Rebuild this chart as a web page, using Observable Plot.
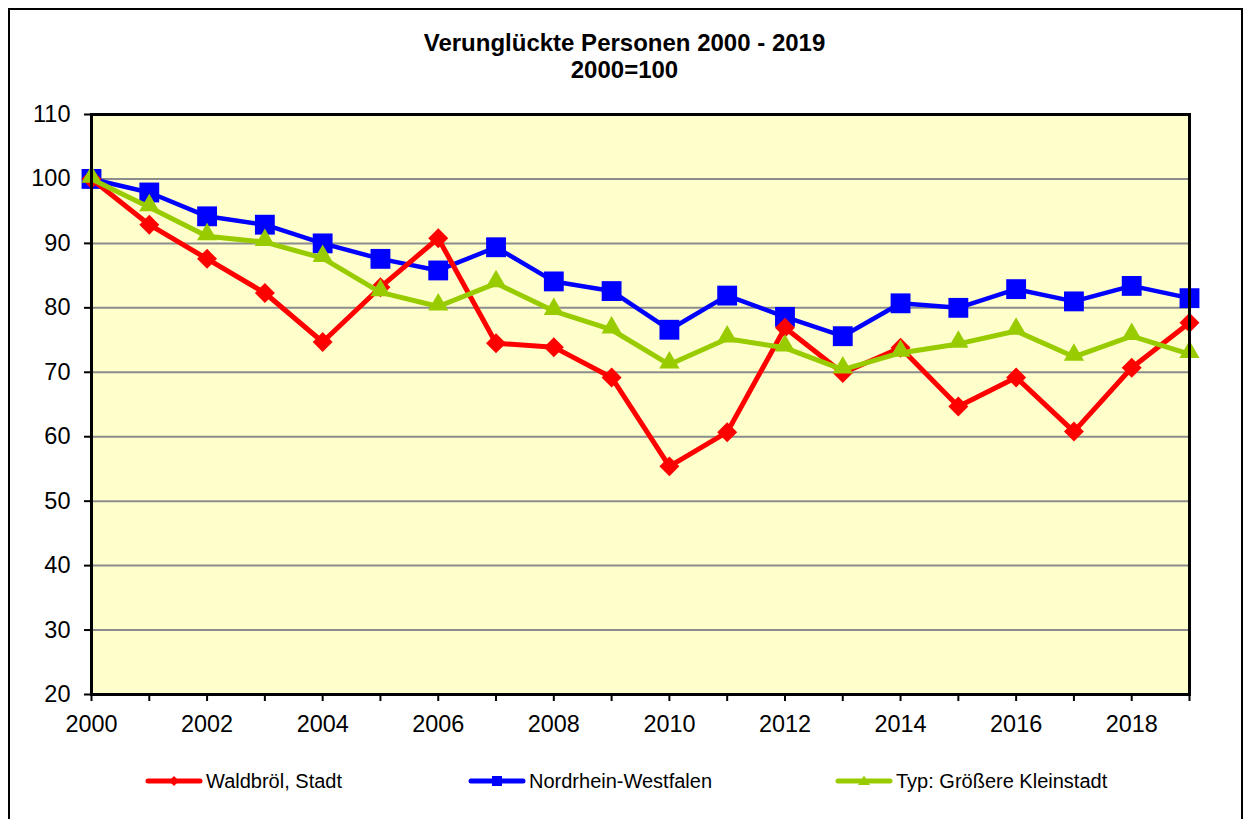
<!DOCTYPE html>
<html>
<head>
<meta charset="utf-8">
<script src="https://cdn.jsdelivr.net/npm/d3@7"></script>
<script src="https://cdn.jsdelivr.net/npm/@observablehq/plot@0.6"></script>
<style>
  html, body { margin: 0; padding: 0; background: #fff; overflow: hidden; }
  #wrap { position: relative; width: 1249px; height: 819px; font-family: "Liberation Sans", Arial, sans-serif; }
  #border { position: absolute; left: 8px; top: 8px; width: 1235px; height: 840px; border: 2px solid #000; box-sizing: border-box; }
  #chart { position: absolute; left: 0; top: 0; }
  .title { position: absolute; left: 0; width: 1249px; text-align: center; font-weight: bold; font-size: 24px; color: #000; line-height: 1; }
  .leg { position: absolute; top: 771px; height: 20px; display: flex; align-items: center; font-size: 20px; color: #000; }
  .leg svg { display: block; margin-right: 3px; }
</style>
</head>
<body>
<div id="wrap">
  <div id="chart"></div>
  <div id="border"></div>
  <div class="title" id="t1" style="top:31px"></div>
  <div class="title" id="t2" style="top:58px"></div>
  <div id="legend"></div>
</div>
<script>
const years = d3.range(2000, 2020);
const waldbroel = [100, 92.9, 87.6, 82.3, 74.7, 83.2, 90.8, 74.5, 73.9, 69.2, 55.4, 60.7, 76.9, 69.9, 73.8, 64.7, 69.2, 60.8, 70.7, 77.7];
const nrw       = [100, 97.9, 94.2, 92.9, 90.0, 87.6, 85.8, 89.4, 84.1, 82.6, 76.6, 81.9, 78.6, 75.6, 80.7, 80.0, 82.9, 81.0, 83.4, 81.5];
const typ       = [100, 95.6, 91.1, 90.2, 87.7, 82.4, 80.2, 83.8, 79.5, 76.6, 71.2, 75.2, 73.8, 70.4, 73.0, 74.4, 76.4, 72.4, 75.6, 72.8];
const seriesNames = ["Waldbröl, Stadt", "Nordrhein-Westfalen", "Typ: Größere Kleinstadt"];
const seriesColors = ["#ff0000", "#0000ff", "#99cc00"];
const yTicks = d3.range(20, 111, 10);
const xLabelYears = d3.range(2000, 2019, 2);
const titleLines = ["Verunglückte Personen 2000 - 2019", "2000=100"];

document.getElementById("t1").textContent = titleLines[0];
document.getElementById("t2").textContent = titleLines[1];

const rows = (vals) => years.map((y, i) => ({year: y, value: vals[i]}));
const dW = rows(waldbroel), dN = rows(nrw), dT = rows(typ);

const chart = Plot.plot({
  width: 1249,
  height: 819,
  marginLeft: 91,
  marginRight: 60,
  marginTop: 114,
  marginBottom: 125,
  style: {fontFamily: "'Liberation Sans', Arial, sans-serif", background: "transparent", color: "#000", overflow: "visible"},
  x: {domain: [2000, 2019]},
  y: {domain: [20, 110]},
  marks: [
    Plot.frame({fill: "#ffffcc"}),
    Plot.ruleY(yTicks.filter(d => d > 20 && d < 110), {stroke: "#8c8c8c", strokeWidth: 2}),
    Plot.axisY({ticks: yTicks, tickSize: 7, tickPadding: 14, fontSize: 23.5, stroke: "#000", strokeWidth: 2, tickFormat: d => String(d), label: null}),
    Plot.axisX({ticks: years, tickSize: 7, stroke: "#000", strokeWidth: 2, tickFormat: () => "", label: null}),
    Plot.axisX({ticks: xLabelYears, tickSize: 0, tickPadding: 21, fontSize: 23.4, tickFormat: d => String(d), label: null}),
    Plot.line(dN, {x: "year", y: "value", stroke: seriesColors[1], strokeWidth: 4.5}),
    Plot.dot(dN, {x: "year", y: "value", symbol: "square", r: 11.2, fill: seriesColors[1], stroke: null}),
    Plot.line(dW, {x: "year", y: "value", stroke: seriesColors[0], strokeWidth: 5}),
    Plot.dot(dW, {x: "year", y: "value", symbol: "diamond2", r: 9, fill: seriesColors[0], stroke: null}),
    Plot.line(dT, {x: "year", y: "value", stroke: seriesColors[2], strokeWidth: 5}),
    Plot.dot(dT, {x: "year", y: "value", symbol: "triangle", r: 7.5, fill: seriesColors[2], stroke: null, dy: -2}),
    Plot.frame({stroke: "#000", strokeWidth: 3})
  ]
});
document.getElementById("chart").appendChild(chart);

// legend
const legendX = [145, 468, 835];
const legend = document.getElementById("legend");
const markerPath = [
  "M29,5 L34,10 L29,15 L24,10 Z",
  "M24,5 H34 V15 H24 Z",
  "M29,4.5 L35,14 L23,14 Z"
];
seriesNames.forEach((name, i) => {
  const div = document.createElement("div");
  div.className = "leg";
  div.style.left = legendX[i] + "px";
  div.innerHTML = `<svg width="58" height="20"><line x1="3" y1="10" x2="55" y2="10" stroke="${seriesColors[i]}" stroke-width="5" stroke-linecap="round"/><path d="${markerPath[i]}" fill="${seriesColors[i]}"/></svg><span>${name}</span>`;
  legend.appendChild(div);
});
</script>
</body>
</html>
